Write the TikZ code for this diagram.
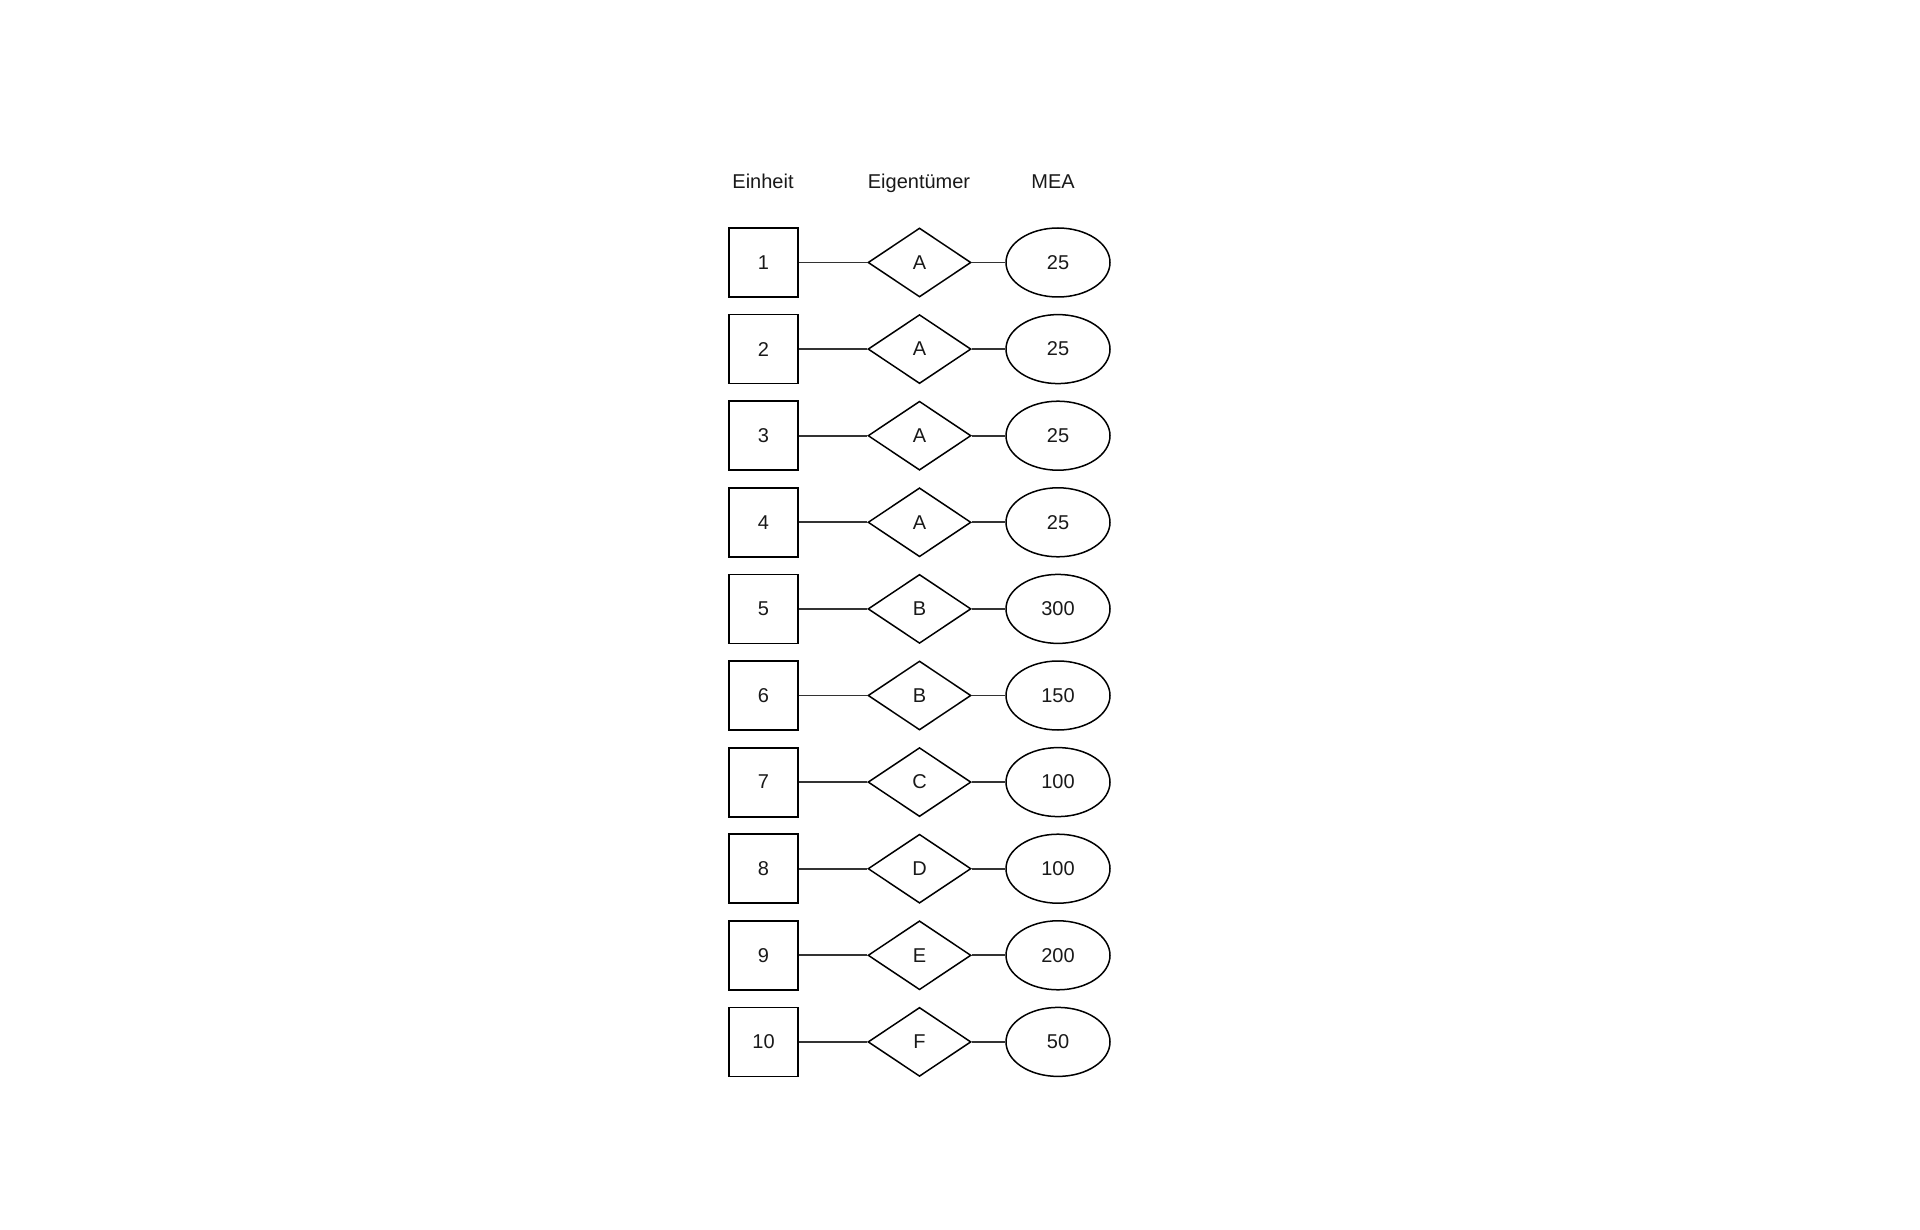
\documentclass[tikz,border=0pt]{standalone}
\usepackage{fontspec}
\setmainfont{Liberation Sans}
\usetikzlibrary{shapes.geometric}
\begin{document}
\begin{tikzpicture}[x=1pt,y=-1pt,
  every node/.style={font=\fontsize{20}{24}\selectfont, text=black!90},
  unitbox/.style={draw, line width=1.8pt, minimum width=69pt, minimum height=69pt, inner sep=0pt},
  ownerbox/.style={draw, diamond, line width=1.5pt, minimum width=103pt, minimum height=69pt, inner sep=0pt, aspect=1.5},
  meabox/.style={draw, ellipse, line width=1.5pt, minimum width=104pt, minimum height=69pt, inner sep=0pt},
  link/.style={line width=1.8pt, draw=black!80},
  head/.style={inner sep=0pt, anchor=base}]
\useasboundingbox (0,0) rectangle (1920,1230);
\node[head] (h1) at (763,189) {Einheit};
\node[head] (h2) at (919,189) {Eigentümer};
\node[head] (h3) at (1053,189) {MEA};
\foreach \i/\o/\m in {1/A/25,2/A/25,3/A/25,4/A/25,5/B/300,6/B/150,7/C/100,8/D/100,9/E/200,10/F/50}{
  \pgfmathsetmacro{\yy}{262.5+86.6*(\i-1)}
  \node[unitbox] (u\i) at (763.5,\yy) {\i};
  \node[ownerbox] (o\i) at (919.5,\yy) {\o};
  \node[meabox] (m\i) at (1058,\yy) {\m};
  \draw[link] (u\i) -- (o\i);
  \draw[link] (o\i) -- (m\i);
}
\end{tikzpicture}
\end{document}
